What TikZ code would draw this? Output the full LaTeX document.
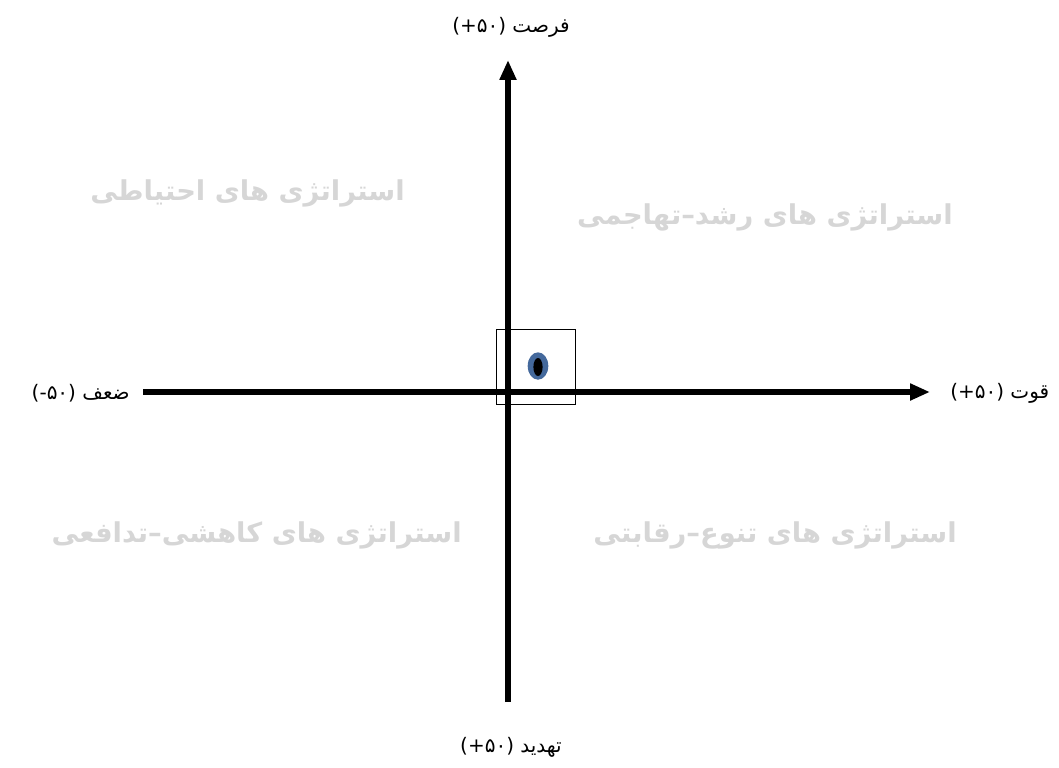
\documentclass[tikz,border=0pt]{standalone}
\usepackage{fontspec}
\usepackage{tikz}
\usetikzlibrary{arrows.meta,positioning}
\TeXXeTstate=1
\newfontfamily\arabicfont[Script=Arabic]{DejaVu Sans}
\newfontfamily\latinfont{DejaVu Sans}
\definecolor{ink}{HTML}{000000}
\definecolor{haze}{HTML}{D6D6D6}
\definecolor{dotblue}{HTML}{44699C}
\newcommand{\pfifty}[1]{{\latinfont(#1}۵\kern0pt۰{\latinfont)}}

\tikzset{
  axis/.style={ink,line width=3.8pt,-{Triangle[length=15pt,width=12pt]}},
  axislabel/.style={text=ink,font=\arabicfont\fontsize{15}{17}\selectfont,inner sep=0pt},
  quadlabel/.style={text=haze,font=\arabicfont\bfseries\fontsize{20.5}{24}\selectfont,inner sep=0pt}
}

\begin{document}
\begin{tikzpicture}[x=0.75pt,y=-0.75pt]
  \useasboundingbox (0,0) rectangle (1059,767);

  \coordinate (west) at (143,392);
  \coordinate (east) at (930,392);
  \coordinate (south) at (508,702);
  \coordinate (north) at (508,60);

  \draw[ink,line width=0.75pt] (496,329) rectangle (575,404);
  \draw[axis] (west) -- (east);
  \draw[axis] (south) -- (north);

  \fill[dotblue] (538,366) ellipse (10.3 and 13.7);
  \fill[ink] (538,367) ellipse (4.6 and 9);

  \node[axislabel,anchor=south] (opp) at (511,38)
    {\pfifty{+} \beginR فرصت\endR};
  \node[axislabel,anchor=north] (thr) at (511,737)
    {\pfifty{+} \beginR تهدید\endR};
  \node[axislabel,anchor=east] (wea) at (130,393)
    {\pfifty{-} \beginR ضعف\endR};
  \node[axislabel,anchor=west] (str) at (950,393)
    {\pfifty{+} \beginR قوت\endR};

  \node[quadlabel,anchor=east] (cons) at (405,193)
    {\beginR استراتژی های احتیاطی\endR};
  \node[quadlabel,anchor=east] (grow) at (953,217)
    {\beginR استراتژی های رشد–تهاجمی\endR};
  \node[quadlabel,anchor=east] (defs) at (462,535)
    {\beginR استراتژی های کاهشی–تدافعی\endR};
  \node[quadlabel,anchor=east] (comp) at (957,535)
    {\beginR استراتژی های تنوع–رقابتی\endR};
\end{tikzpicture}
\end{document}
